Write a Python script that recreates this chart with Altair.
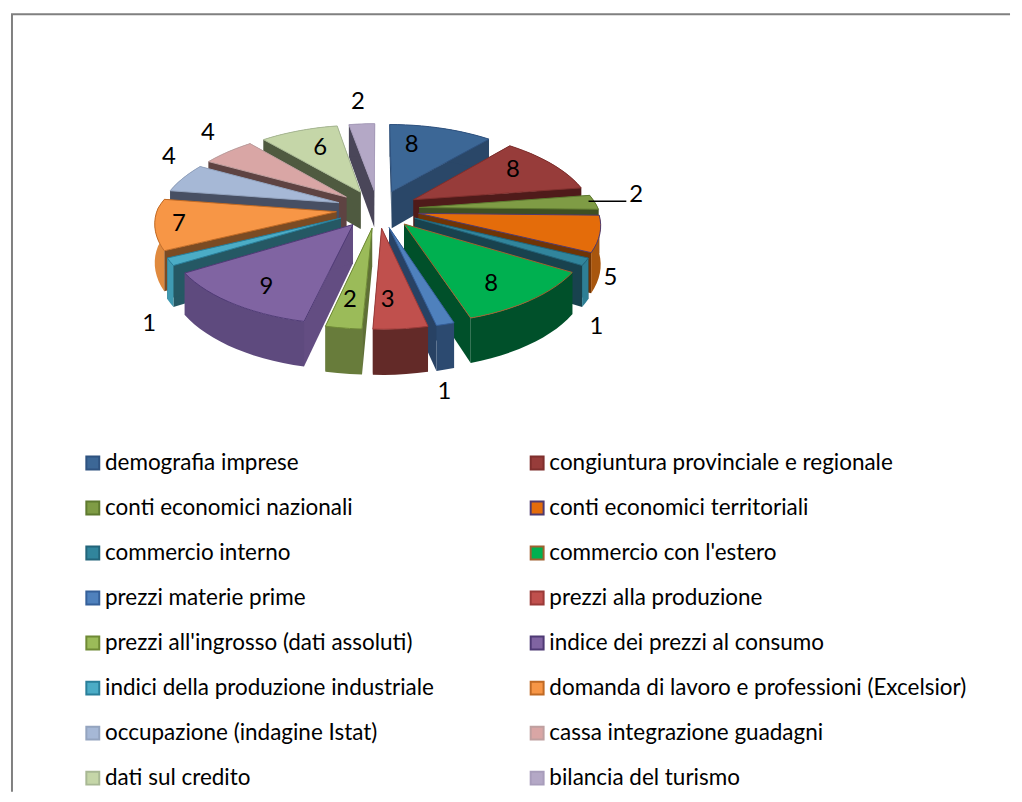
import math
import altair as alt
import pandas as pd

names = ["demografia imprese", "congiuntura provinciale e regionale", "conti economici nazionali",
         "conti economici territoriali", "commercio interno", "commercio con l'estero",
         "prezzi materie prime", "prezzi alla produzione", "prezzi all'ingrosso (dati assoluti)",
         "indice dei prezzi al consumo", "indici della produzione industriale",
         "domanda di lavoro e professioni (Excelsior)", "occupazione (indagine Istat)",
         "cassa integrazione guadagni", "dati sul credito", "bilancia del turismo"]
values = [8, 8, 2, 5, 1, 8, 1, 3, 2, 9, 1, 7, 4, 4, 6, 2]
top_colors = ["#3c6796", "#973c3a", "#7f9c45", "#e46c0a", "#31859c", "#00b050", "#4f81bd", "#c0504d",
              "#9bbb59", "#8064a2", "#4bacc6", "#f79646", "#a6b8d6", "#d9a6a5", "#c5d6a8", "#b4a8c6"]
side_colors = ["#2a4768", "#4f1b1a", "#3f4f22", "#6f3405", "#18424e", "#00502a", "#284264", "#632a28",
               "#5f7036", "#634d82", "#255864", "#7b4b23", "#474f63", "#5e4342", "#4f5a40", "#4a4659"]
rim_colors = ["#2a4768", "#4f1b1a", "#3f4f22", "#a8560e", "#2e7f95", "#00502a", "#2c4a70", "#632a28",
              "#687c3b", "#5e4a7e", "#3f9ab2", "#e08a3e", "#474f63", "#5e4342", "#4f5a40", "#4a4659"]
edge_colors = ["#2f5380", "#7f2f2d", "#5f7a30", "#4f3a6f", "#23657a", "#a06030", "#35609a", "#9a3a38",
               "#6f8a35", "#4f3a75", "#2a7f9a", "#c06a25", "#94a4bf", "#bfa0a0", "#a8b894", "#a89dbb"]
label_x = [411, 513, 637, 611, 597, 491, 444, 387, 349, 265, 147, 177, 167, 206, 319, 357]
label_y = [143, 168, 193, 276, 326, 282, 391, 298, 298, 285, 323, 222, 155, 130, 146, 99]

W, H = 1006, 786
CX, CY, AX, KY, P, EXPLODE, DEPTH = 377.0, 206.6, 180.0, 81.4, 0.14, 0.233, 38.0
PX_BACK, PX_FRONT = 0.18, 0.12


def project(X, Y, down=0.0):
    s = 1.0 / (1.0 - P * Y)
    sx = 1.0 / (1.0 - (PX_BACK if Y < 0 else PX_FRONT) * Y)
    return CX + AX * X * sx, CY + KY * Y * s + down * s


total = sum(values)
top_rows, side_rows = [], []
piece_domain, piece_range = [], []
start = 0.0
for k, (name, v) in enumerate(zip(names, values)):
    sweep = v / total * 2 * math.pi
    mid = start + sweep / 2
    ox, oy = EXPLODE * math.sin(mid), -EXPLODE * math.cos(mid)
    n = max(2, int(sweep / math.radians(3)))
    rim = [(ox + math.sin(start + sweep * j / n), oy - math.cos(start + sweep * j / n)) for j in range(n + 1)]
    tip = (ox, oy)

    poly = [tip] + rim + [tip]
    for i, (X, Y) in enumerate(poly):
        x, y = project(X, Y)
        top_rows.append({"name": name, "i": i, "x": x, "y": y})

    walls = [(side_colors[k], [tip, rim[0]]), (side_colors[k], [tip, rim[-1]]), (rim_colors[k], rim)]
    for w_i, (col, wall) in enumerate(walls):
        piece = f"{name}-{w_i}"
        piece_domain.append(piece)
        piece_range.append(col)
        ring = [(X, Y, 0.0) for X, Y in wall] + [(X, Y, DEPTH) for X, Y in reversed(wall)]
        ring.append(ring[0])
        for i, (X, Y, d) in enumerate(ring):
            x, y = project(X, Y, d)
            side_rows.append({"piece": piece, "i": i, "x": x, "y": y, "key": oy})
    start += sweep

tops = pd.DataFrame(top_rows)
sides = pd.DataFrame(side_rows).sort_values("key", kind="stable")

x_enc = alt.X("x:Q", scale=alt.Scale(domain=[8, 8 + W], range=[0, W]), axis=None)
y_enc = alt.Y("y:Q", scale=alt.Scale(domain=[8, 8 + H], range=[0, H]), axis=None)

frame = pd.DataFrame({"x": [9, 9, 1013], "y": [793, 11, 11], "i": [0, 1, 2]})
frame_layer = alt.Chart(frame).mark_line(color="#808080", strokeWidth=2, strokeCap="butt").encode(
    x=x_enc, y=y_enc, order=alt.Order("i:Q"))

side_layer = alt.Chart(sides).mark_line(filled=True, strokeWidth=0.6).encode(
    x=x_enc, y=y_enc,
    color=alt.Color("piece:N", scale=alt.Scale(domain=piece_domain, range=piece_range), legend=None),
    detail="piece:N", order=alt.Order("i:Q"))

legend = alt.Legend(orient="none", legendX=71, legendY=443, padding=0, columns=2, title=None, direction="horizontal",
                    symbolType="square", symbolSize=169, symbolStrokeWidth=2, symbolOpacity=1,
                    labelFont="Lato", labelFontSize=22.6, labelColor="#000000",
                    labelOffset=1, labelLimit=500, rowPadding=22.3, columnPadding=92)

top_layer = alt.Chart(tops).mark_line(filled=True, strokeWidth=1).encode(
    x=x_enc, y=y_enc,
    color=alt.Color("name:N", scale=alt.Scale(domain=names, range=top_colors), legend=legend),
    stroke=alt.Stroke("name:N", scale=alt.Scale(domain=names, range=edge_colors), legend=legend),
    detail="name:N", order=alt.Order("i:Q"))

leader = pd.DataFrame({"x": [589, 627], "y": [199, 199], "i": [0, 1]})
leader_layer = alt.Chart(leader).mark_line(color="#000000", strokeWidth=1.5).encode(
    x=x_enc, y=y_enc, order=alt.Order("i:Q"))

labels = pd.DataFrame({"x": label_x, "y": label_y, "t": [str(v) for v in values]})
text_layer = alt.Chart(labels).mark_text(font="Lato", fontSize=24, color="#000000",
                                         align="center", baseline="middle").encode(
    x=x_enc, y=y_enc, text="t:N")

chart = alt.layer(frame_layer, side_layer, top_layer, leader_layer, text_layer).resolve_scale(
    color="independent", stroke="independent"
).properties(width=W, height=H, padding=0, background="#ffffff").configure_view(stroke=None)

chart.save("out.html", embed_options={"renderer": "svg", "actions": False})
